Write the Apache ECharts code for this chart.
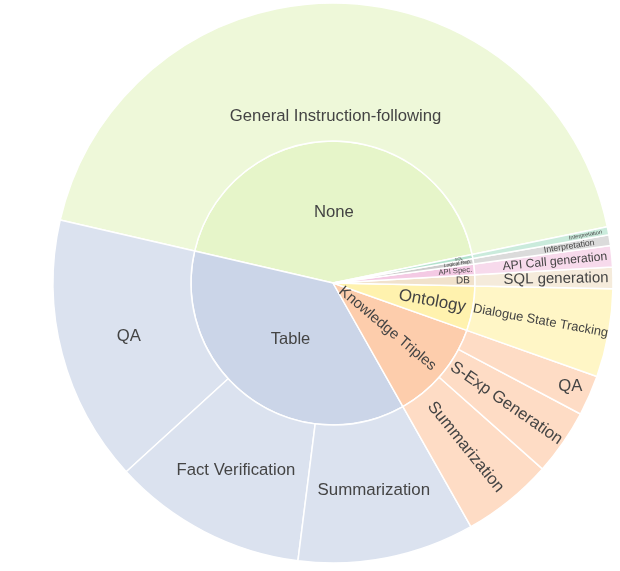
<!DOCTYPE html>
<html>
<head>
<meta charset="utf-8">
<script src="https://cdn.jsdelivr.net/npm/echarts@6/dist/echarts.min.js"></script>
<style>
html,body{margin:0;padding:0;background:#fff;}
#chart{width:620px;height:571px;}
</style>
</head>
<body>
<div id="chart"></div>
<script>
// ---- data ----
const parentNames = ['None', 'Table', 'Knowledge Triples', 'Ontology', 'DB', 'API Spec.', 'Logical Rep.', 'SQL'];
const childNames = [
  ['General Instruction-following'],
  ['QA', 'Fact Verification', 'Summarization'],
  ['Summarization', 'S-Exp Generation', 'QA'],
  ['Dialogue State Tracking'],
  ['SQL generation'],
  ['API Call generation'],
  ['Interpretation'],
  ['Interpretation']
];
const childValues = [
  [155.4],
  [55.4, 40.4, 36.7],
  [18.9, 13.7, 8.4],
  [18.3],
  [4.5],
  [4.4],
  [2.2],
  [1.7]
];

// ---- styles (kept separate from data) ----
const parentColors = ['#e6f5c9', '#cbd5e8', '#fdcdac', '#fff2ae', '#f1e2cc', '#f4cae4', '#cccccc', '#b3e2cd'];
function lighten(hex, a) {
  const n = parseInt(hex.slice(1), 16);
  const r = (n >> 16) & 255, g = (n >> 8) & 255, b = n & 255;
  const f = v => Math.round(a * v + (1 - a) * 255);
  return 'rgb(' + f(r) + ',' + f(g) + ',' + f(b) + ')';
}
// label styles per parent index
const parentLabel = [
  {fontSize: 16.7, rotate: 0},
  {fontSize: 16.5, rotate: 0},
  {fontSize: 14.9},
  {fontSize: 17, padding: [0, 0, 0, 60]},
  {fontSize: 10, padding: [0, 0, 0, 118]},
  {fontSize: 7.6, padding: [0, 0, 0, 104]},
  {fontSize: 5, padding: [0, 0, 0, 110]},
  {fontSize: 4, padding: [0, 0, 0, 114]}
];
// label styles per child [parent][child]
const childLabel = [
  [{fontSize: 16.7, rotate: 0, formatter: '\n{b}', lineHeight: 88}],
  [{fontSize: 16.7, rotate: 0}, {fontSize: 16.7, rotate: 0}, {fontSize: 16.9, rotate: 0}],
  [{fontSize: 16.7}, {fontSize: 16.7}, {fontSize: 16.7, rotate: 0, formatter: '\n{b}', lineHeight: 38, padding: [0, 0, 0, 88]}],
  [{fontSize: 12.9, padding: [0, 0, 0, 0]}],
  [{fontSize: 15, padding: [0, 0, 0, 24]}],
  [{fontSize: 12.2, padding: [0, 0, 0, 24]}],
  [{fontSize: 8.7, padding: [0, 0, 0, 56]}],
  [{fontSize: 5.7, padding: [0, 0, 0, 92]}]
];

const data = parentNames.map((p, i) => ({
  name: p,
  itemStyle: {color: parentColors[i]},
  label: parentLabel[i],
  children: childNames[i].map((c, j) => ({
    name: c,
    value: childValues[i][j],
    itemStyle: {color: lighten(parentColors[i], 0.7)},
    label: childLabel[i][j]
  }))
}));

const chart = echarts.init(document.getElementById('chart'), null, {renderer: 'canvas'});
chart.setOption({
  animation: false,
  series: [{
    type: 'sunburst',
    center: [333, 283],
    radius: [0, 280],
    startAngle: 11.6,
    clockwise: false,
    sort: 'desc',
    nodeClick: false,
    data: data,
    itemStyle: {borderColor: '#ffffff', borderWidth: 1.5},
    label: {
      rotate: 'radial',
      color: '#444444',
      fontFamily: '"Liberation Sans", Arial, sans-serif',
      fontSize: 14
    },
    emphasis: {focus: 'none'},
    levels: [
      {},
      {r0: 0, r: 142},
      {r0: 142, r: 280}
    ]
  }]
});
</script>
</body>
</html>
